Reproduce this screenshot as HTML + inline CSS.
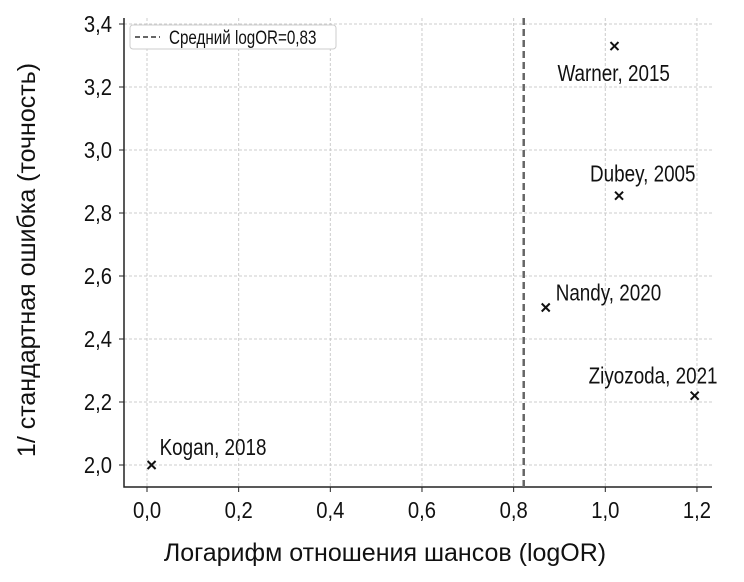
<!DOCTYPE html>
<html><head><meta charset="utf-8"><style>
html,body{margin:0;padding:0;background:#fff;}
svg text{font-family:"Liberation Sans",sans-serif;fill:#111;}
</style></head><body>
<svg id="chart" width="744" height="577" xmlns="http://www.w3.org/2000/svg">
<g id="grid"></g><g id="axes"></g><g id="marks"></g>
</svg>
<script>
const xTicks=[0,0.2,0.4,0.6,0.8,1.0,1.2];
const yTicks=[2.0,2.2,2.4,2.6,2.8,3.0,3.2,3.4];
const studies=["Kogan, 2018","Nandy, 2020","Warner, 2015","Dubey, 2005","Ziyozoda, 2021"];
const logOR=[0.01,0.87,1.02,1.03,1.195];
const precision=[2.0,2.5,3.33,2.855,2.22];
const meanLogOR=0.822;
const meanLabel="Средний logOR=0,83";
const NS="http://www.w3.org/2000/svg";
const L=124,R=712,T=18,B=487;
const X=v=>147+(v-0)*458.3;
const Y=v=>465-(v-2.0)*315;
function mk(tag,attrs,parent,text){const e=document.createElementNS(NS,tag);for(const k in attrs)e.setAttribute(k,attrs[k]);if(text!==undefined)e.textContent=text;parent.appendChild(e);return e;}
function txt(x,y,s,size,sx,anchor,parent,rot){
 const tr=`translate(${x},${y})`+(rot?` rotate(${rot})`:'')+` scale(${sx},1)`;
 return mk('text',{x:0,y:0,transform:tr,'font-size':size,'text-anchor':anchor},parent,s);
}
const grid=document.getElementById('grid'),axes=document.getElementById('axes'),marks=document.getElementById('marks');
const fmt=v=>v.toFixed(1).replace('.',',');
xTicks.forEach(v=>{
 const g=mk('line',{x1:X(v),x2:X(v),y1:T,y2:B,stroke:'#ccc','stroke-dasharray':'3,2','stroke-width':1},grid);
 
 const t=mk('line',{x1:X(v),x2:X(v),y1:B,y2:B+5,stroke:'#222'},axes);
 
 const l=txt(X(v),B+31,fmt(v),23,0.88,'middle',axes);
 
});
yTicks.forEach(v=>{
 const g=mk('line',{x1:L,x2:R,y1:Y(v),y2:Y(v),stroke:'#ccc','stroke-dasharray':'3,2','stroke-width':1},grid);
 
 const t=mk('line',{x1:L-5,x2:L,y1:Y(v),y2:Y(v),stroke:'#222'},axes);
 
 const l=txt(L-12,Y(v)+8,fmt(v),23,0.88,'end',axes);
 
});
const sp=mk('path',{d:`M${L},${T}V${B}H${R}`,fill:'none',stroke:'#222','stroke-width':1.5},axes);

const xt=txt(385,561,'Логарифм отношения шансов (logOR)',25,1.0,'middle',axes);

const yt=txt(35,260,'1/ стандартная ошибка (точность)',25,1.0,'middle',axes,-90);

const ml=mk('line',{x1:X(meanLogOR),x2:X(meanLogOR),y1:T,y2:B,stroke:'#666','stroke-width':2.5,'stroke-dasharray':'7,4'},marks);

const offs=[[8,-10],[10,-7],[-57,35],[-29,-14],[-106,-12]];
studies.forEach((s,i)=>{
 const x=X(logOR[i]),y=Y(precision[i]);
 const p=mk('path',{d:`M${x-4},${y-4}L${x+4},${y+4}M${x-4},${y+4}L${x+4},${y-4}`,stroke:'#111','stroke-width':2},marks);
 
 const t=txt(x+offs[i][0],y+offs[i][1],s,23,0.82,'start',marks);
 
});
const lg=mk('g',{},marks);

mk('rect',{x:130,y:25,width:206,height:24,rx:3,fill:'#fff',stroke:'#ccc'},lg);
mk('line',{x1:135,x2:160,y1:37,y2:37,stroke:'#666','stroke-width':2,'stroke-dasharray':'5,3'},lg);
const lt=txt(169,44,meanLabel,19,0.8,'start',lg);

</script>
</body></html>
